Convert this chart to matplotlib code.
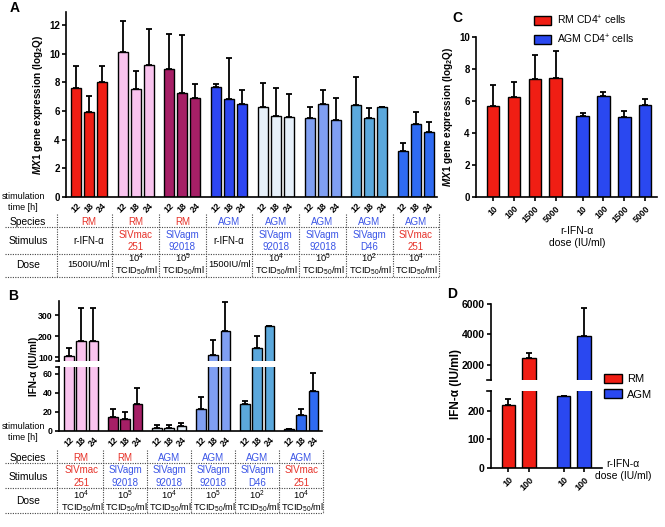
import matplotlib
matplotlib.use('Agg')
import matplotlib.pyplot as plt
import numpy as np

plt.rcParams['font.family'] = ['Liberation Sans', 'DejaVu Sans']
plt.rcParams['mathtext.fontset'] = 'custom'
plt.rcParams['mathtext.rm'] = 'Liberation Sans:bold'
plt.rcParams['mathtext.it'] = 'Liberation Sans:italic:bold'
plt.rcParams['mathtext.bf'] = 'Liberation Sans:bold'
plt.rcParams['mathtext.sf'] = 'Liberation Sans'
plt.rcParams['axes.linewidth'] = 1.2

# ---------------- data ----------------
times = ['12', '18', '24']

# panel A: MX1 expression (log2Q), 8 conditions x 3 time points
mean_A = [[7.6, 5.9, 8.0], [10.1, 7.5, 9.2], [8.95, 7.25, 6.9], [7.65, 6.85, 6.5],
          [6.3, 5.65, 5.6], [5.5, 6.5, 5.4], [6.45, 5.5, 6.25], [3.2, 5.1, 4.55]]
err_A = [[1.5, 1.15, 1.15], [2.2, 1.3, 2.5], [2.45, 4.05, 1.0], [0.25, 2.85, 0.95],
         [1.65, 1.95, 1.6], [0.8, 0.95, 1.5], [1.9, 0.7, 0.05], [0.6, 0.8, 0.65]]
colors_A = ['#f01e14', '#f9c3ee', '#a61f66', '#2d46f2', '#e6f0fa', '#809ff2', '#5ba8dc', '#2f6bf2']
species_A = ['RM', 'RM', 'RM', 'AGM', 'AGM', 'AGM', 'AGM', 'AGM']
stim_A = ['r-IFN-α', 'SIVmac\n251', 'SIVagm\n92018', 'r-IFN-α', 'SIVagm\n92018',
          'SIVagm\n92018', 'SIVagm\nD46', 'SIVmac\n251']
dose_A = ['1500IU/ml', 4, 5, '1500IU/ml', 4, 5, 2, 4]

# panel B: IFN-alpha (IU/ml), 6 conditions x 3 time points
mean_B = [[103, 175, 175], [14.5, 12.5, 28], [3.5, 3.5, 5.6], [23.5, 110, 225],
          [28, 145, 250], [2, 16.5, 42]]
err_B = [[42, 160, 160], [8.5, 7, 16.5], [2.8, 2.5, 2.4], [12.5, 70, 138],
         [3, 57, 0], [0.3, 7, 19]]
colors_B = ['#f9c3ee', '#a61f66', '#e6f0fa', '#809ff2', '#5ba8dc', '#2f6bf2']
species_B = ['RM', 'RM', 'AGM', 'AGM', 'AGM', 'AGM']
stim_B = ['SIVmac\n251', 'SIVagm\n92018', 'SIVagm\n92018', 'SIVagm\n92018',
          'SIVagm\nD46', 'SIVmac\n251']
dose_B = [4, 5, 4, 5, 2, 4]

# panel C: MX1 expression vs r-IFN-alpha dose
doses_C = ['10', '100', '1500', '5000']
rm_C = [5.7, 6.25, 7.4, 7.45]
rm_C_err = [1.3, 0.95, 1.5, 1.65]
agm_C = [5.05, 6.3, 5.0, 5.75]
agm_C_err = [0.2, 0.27, 0.4, 0.35]

# panel D: IFN-alpha vs r-IFN-alpha dose
doses_D = ['10', '100']
rm_D = [221, 2460]
rm_D_err = [21, 330]
agm_D = [253, 3900]
agm_D_err = [0, 1840]

RED = '#f01e14'
BLUE = '#2a48f0'
TXT_RED = '#e63229'
TXT_BLUE = '#3b55e6'
TFS = 7.0  # table font size
DFS = 6.7  # dose font size

W, H = 665, 527
fig = plt.figure(figsize=(W / 100, H / 100), dpi=100)


def add_ax(l, t, r, b):
    ax = fig.add_axes([l / W, 1 - b / H, (r - l) / W, (b - t) / H])
    ax.set_xlim(l, r)
    ax.spines['top'].set_visible(False)
    ax.spines['right'].set_visible(False)
    ax.tick_params(direction='out', length=3, width=1.2, labelsize=7, pad=1.5)
    return ax


def bars(ax, x, y, e, color, width):
    ax.bar(x, y, width, color=color, edgecolor='black', linewidth=1.0, zorder=2)
    ax.errorbar(x, y, yerr=[np.zeros(len(y)), e], fmt='none', ecolor='black',
                elinewidth=1.3, capsize=2.2, capthick=1.3, zorder=3)


def bold_ticks(ax):
    for lab in ax.get_yticklabels() + ax.get_xticklabels():
        lab.set_fontweight('bold')


# overlay in pixel coordinates for tables and annotations
ov = fig.add_axes([0, 0, 1, 1])
ov.set_xlim(0, W)
ov.set_ylim(H, 0)
ov.axis('off')
ov.patch.set_visible(False)


def table(centers, left, right, top, hl, rows, species, stim, dose):
    edges = [left] + list((np.array(centers[:-1]) + np.array(centers[1:])) / 2) + [right]
    for y in hl:
        ov.plot([5, right], [y, y], ls=(0, (1, 1.2)), color='#444', lw=0.8)
    for x in edges:
        ov.plot([x, x], [top, hl[-1]], ls=(0, (1, 1.2)), color='#444', lw=0.8)
    ys, yst, yd = rows
    for lab, yy in zip(['Species', 'Stimulus', 'Dose'], [ys, yst, yd]):
        ov.text(28, yy, lab, ha='center', va='center', fontsize=7.4)
    for c, sp, st, do in zip(centers, species, stim, dose):
        ov.text(c, ys, sp, ha='center', va='center', fontsize=TFS,
                color=TXT_RED if sp == 'RM' else TXT_BLUE)
        col = TXT_RED if 'mac' in st else (TXT_BLUE if 'agm' in st else 'black')
        ov.text(c, yst, st, ha='center', va='center', fontsize=TFS, color=col,
                linespacing=1.35)
        if isinstance(do, str):
            ov.text(c, yd, do, ha='center', va='center', fontsize=DFS)
        else:
            ov.text(c, yd - 6, r'10$^{\mathsf{%d}}$' % do, ha='center', va='center',
                    fontsize=DFS)
            ov.text(c + 1, yd + 6.5, r'TCID$_{\mathsf{50}}$/ml', ha='center',
                    va='center', fontsize=DFS)


# ---------------- panel A ----------------
axA = add_ax(66, 12, 437, 197)
centers_A = []
xt, xl = [], []
for g in range(len(mean_A)):
    x = 76 + g * 46.7 + np.arange(3) * 13
    bars(axA, x, mean_A[g], err_A[g], colors_A[g], 10)
    centers_A.append(x.mean())
    xt += list(x)
    xl += times
axA.set_ylim(0, 12.9)
axA.set_yticks(np.arange(0, 13, 2))
axA.set_xticks(xt)
axA.set_xticklabels(xl, rotation=45, ha='right', va='top', rotation_mode='anchor',
                    fontsize=6.3)
axA.tick_params(axis='x', length=0, pad=3)
bold_ticks(axA)
axA.set_ylabel(r'$\mathit{MX1}$ gene expression (log$_{2}$Q)', fontsize=7.2,
               fontweight='bold', labelpad=3)
table(centers_A, 57, 439, 214, [227, 254, 277], (222, 241, 264.5),
      species_A, stim_A, dose_A)
ov.text(23, 202, 'stimulation\ntime [h]', ha='center', va='center', fontsize=6.5,
        linespacing=1.15)
ov.text(10, 8, 'A', ha='left', va='center', fontsize=10, fontweight='bold')

# ---------------- panel B ----------------
axB = add_ax(59, 367, 322, 431)
axBu = add_ax(59, 301, 322, 361)
axBu.spines['bottom'].set_visible(False)
axBu.set_xticks([])
centers_B = []
xt, xl = [], []
for g in range(len(mean_B)):
    x = 69 + g * 44 + np.arange(3) * 12.2
    for ax in (axB, axBu):
        bars(ax, x, mean_B[g], err_B[g], colors_B[g], 9.5)
    centers_B.append(x.mean())
    xt += list(x)
    xl += times
axB.set_ylim(0, 67)
axB.set_yticks([0, 20, 40, 60])
axBu.set_ylim(81, 367)
axBu.set_yticks([100, 200, 300])
axB.set_xticks(xt)
axB.set_xticklabels(xl, rotation=45, ha='right', va='top', rotation_mode='anchor',
                    fontsize=6.3)
axB.tick_params(axis='x', length=0, pad=3)
for ax in (axB, axBu):
    ax.tick_params(axis='y', labelsize=6.3)
    bold_ticks(ax)
for ax, yb in ((axB, 1), (axBu, 0)):
    ax.plot([-0.012, 0], [yb, yb], transform=ax.transAxes, color='black', lw=1.2,
            clip_on=False)
ov.text(34, 366, 'IFN-α (IU/ml)', rotation=90, ha='center', va='center',
        fontsize=7.2, fontweight='bold')
table(centers_B, 57, 323, 450, [463, 488, 513], (458, 476.5, 501),
      species_B, stim_B, dose_B)
ov.text(23, 432, 'stimulation\ntime [h]', ha='center', va='center', fontsize=6.5,
        linespacing=1.15)
ov.text(8, 296, 'B', ha='left', va='center', fontsize=10, fontweight='bold')

# ---------------- panel C ----------------
axC = add_ax(476, 37, 657, 197)
xr = 493 + np.arange(4) * 20.9
xb = 582.5 + np.arange(4) * 20.9
bars(axC, xr, rm_C, rm_C_err, RED, 12.5)
bars(axC, xb, agm_C, agm_C_err, BLUE, 12.5)
axC.set_ylim(0, 10)
axC.set_yticks(np.arange(0, 11, 2))
axC.set_xticks(list(xr) + list(xb))
axC.set_xticklabels(doses_C * 2, rotation=45, ha='right', va='top',
                    rotation_mode='anchor', fontsize=6.3)
axC.tick_params(axis='x', length=3, pad=2)
bold_ticks(axC)
axC.set_ylabel(r'$\mathit{MX1}$ gene expression (log$_{2}$Q)', fontsize=7.2,
               fontweight='bold', labelpad=3)
ov.text(577, 237, 'r-IFN-α\ndose (IU/ml)', ha='center', va='center', fontsize=7.5,
        linespacing=1.3)
ov.text(452, 18, 'C', ha='left', va='center', fontsize=10, fontweight='bold')
hC = [plt.Rectangle((0, 0), 1, 1, facecolor=c, edgecolor='black', lw=1.0) for c in (RED, BLUE)]
fig.legend(hC, [r'RM CD4$^{\mathsf{+}}$ cells', r'AGM CD4$^{\mathsf{+}}$ cells'],
           loc='upper left', bbox_to_anchor=(527 / W, 1 - 6 / H), frameon=False,
           fontsize=7.5, handlelength=1.6, handleheight=0.9, labelspacing=0.55,
           handletextpad=0.6, borderpad=0.2)

# ---------------- panel D ----------------
axD = add_ax(491, 391, 602, 468)
axDu = add_ax(491, 304, 602, 380)
axDu.spines['bottom'].set_visible(False)
axDu.set_xticks([])
xd_r = np.array([508.5, 529])
xd_b = np.array([563.5, 584])
for ax in (axD, axDu):
    bars(ax, xd_r, rm_D, rm_D_err, RED, 13.5)
    bars(ax, xd_b, agm_D, agm_D_err, BLUE, 13.5)
axD.set_ylim(0, 270)
axD.set_yticks([0, 100, 200])
axDu.set_ylim(1000, 6000)
axDu.set_yticks([2000, 4000, 6000])
axD.set_xticks(list(xd_r) + list(xd_b))
axD.set_xticklabels(doses_D * 2, rotation=45, ha='right', va='top',
                    rotation_mode='anchor', fontsize=6.5)
axD.tick_params(axis='x', length=3, pad=2)
for ax in (axD, axDu):
    ax.tick_params(axis='y', labelsize=7.5)
    bold_ticks(ax)
for ax, yb in ((axD, 1), (axDu, 0)):
    ax.plot([-0.04, 0], [yb, yb], transform=ax.transAxes, color='black', lw=1.2,
            clip_on=False)
ov.text(456, 384, 'IFN-α (IU/ml)', rotation=90, ha='center', va='center',
        fontsize=8.5, fontweight='bold')
ov.text(623, 470, 'r-IFN-α\ndose (IU/ml)', ha='center', va='center', fontsize=7.5,
        linespacing=1.3)
ov.text(447, 294, 'D', ha='left', va='center', fontsize=10, fontweight='bold')
hD = [plt.Rectangle((0, 0), 1, 1, facecolor=c, edgecolor='black', lw=1.0) for c in (RED, BLUE)]
fig.legend(hD, ['RM', 'AGM'], loc='upper left', bbox_to_anchor=(596 / W, 1 - 366 / H),
           frameon=False, fontsize=8, handlelength=1.6, handleheight=0.9,
           labelspacing=0.45, handletextpad=0.5, borderpad=0.2)

fig.savefig('out.png', dpi=100)
